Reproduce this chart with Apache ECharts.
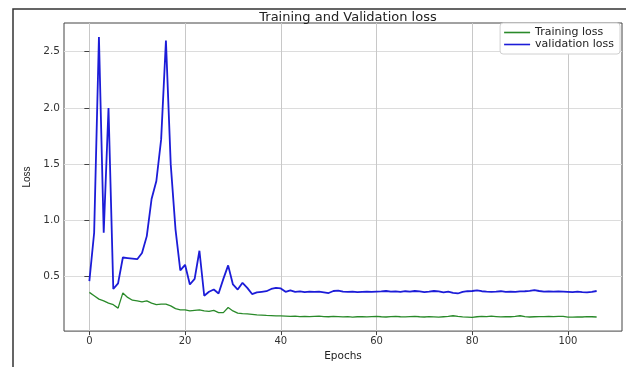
<!DOCTYPE html>
<html>
<head>
<meta charset="utf-8">
<script src="https://cdn.jsdelivr.net/npm/echarts@6/dist/echarts.min.js"></script>
<style>
html,body{margin:0;padding:0;background:#fff;}
#c{width:626px;height:367px;}
</style>
</head>
<body>
<div id="c"></div>
<script>
const trainingLoss = [
0.36,0.33,0.30,0.285,0.265,0.25,0.22,0.355,0.315,0.29,
0.285,0.275,0.285,0.265,0.25,0.255,0.255,0.24,0.215,0.205,
0.205,0.195,0.20,0.205,0.195,0.19,0.20,0.18,0.18,0.225,
0.195,0.175,0.17,0.168,0.165,0.16,0.158,0.155,0.153,0.15,
0.15,0.148,0.146,0.148,0.145,0.147,0.144,0.146,0.148,0.145,
0.143,0.146,0.144,0.142,0.145,0.14,0.143,0.145,0.142,0.144,
0.146,0.143,0.141,0.145,0.147,0.143,0.142,0.145,0.146,0.143,
0.141,0.144,0.142,0.139,0.143,0.147,0.152,0.146,0.142,0.14,
0.137,0.143,0.146,0.144,0.148,0.145,0.142,0.144,0.143,0.146,
0.152,0.144,0.141,0.143,0.145,0.144,0.146,0.145,0.147,0.146,
0.14,0.139,0.142,0.141,0.145,0.143,0.141
];
const validationLoss = [
0.46,0.89,2.63,0.89,2.00,0.39,0.44,0.67,0.665,0.66,
0.655,0.71,0.86,1.19,1.35,1.72,2.60,1.50,0.92,0.555,
0.605,0.43,0.48,0.73,0.33,0.365,0.385,0.35,0.48,0.60,
0.43,0.385,0.445,0.40,0.345,0.36,0.365,0.37,0.39,0.40,
0.395,0.365,0.378,0.365,0.368,0.362,0.366,0.364,0.366,0.36,
0.354,0.372,0.376,0.366,0.364,0.366,0.362,0.365,0.366,0.364,
0.366,0.368,0.372,0.366,0.368,0.365,0.37,0.366,0.372,0.368,
0.362,0.366,0.372,0.368,0.36,0.366,0.356,0.35,0.364,0.37,
0.372,0.378,0.37,0.366,0.364,0.366,0.37,0.364,0.366,0.364,
0.368,0.37,0.374,0.38,0.372,0.366,0.368,0.366,0.368,0.366,
0.364,0.362,0.366,0.362,0.36,0.364,0.372
];
const xTicks = [0,20,40,60,80,100];
const yTicks = [0.5,1.0,1.5,2.0,2.5];

const toPairs = arr => arr.map((v,i)=>[i,v]);

const chart = echarts.init(document.getElementById('c'), null, {renderer:'canvas'});
chart.setOption({
  backgroundColor:'#ffffff',
  animation:false,
  title:{
    text:'Training and Validation loss',
    left:343, top:6, textAlign:'center',
    textStyle:{fontFamily:'DejaVu Sans', fontSize:13, fontWeight:'normal', color:'#222'}
  },
  graphic:[{
    type:'rect', z:-1, silent:true,
    shape:{x:13, y:9, width:700, height:500},
    style:{fill:null, stroke:'#333', lineWidth:1.5}
  }],
  legend:{
    orient:'vertical', right:6, top:23,
    data:[{name:'Training loss', icon:'rect'},{name:'validation loss', icon:'rect'}],
    itemWidth:26, itemHeight:1.6, itemGap:1,
    padding:[4,6,4,4],
    backgroundColor:'#fff', borderColor:'#d0d0d0', borderWidth:1, borderRadius:3,
    textStyle:{fontFamily:'DejaVu Sans', fontSize:11, color:'#222', lineHeight:10}
  },
  grid:{left:64, right:4, top:23, bottom:20, show:true, borderColor:'#444', borderWidth:1, backgroundColor:'transparent'},
  xAxis:{
    type:'value', min:-5.3, max:111.3,
    name:'Epochs', nameLocation:'middle', nameGap:15,
    nameTextStyle:{fontFamily:'DejaVu Sans', fontSize:10.5, color:'#222'},
    axisLine:{show:false},
    axisTick:{show:true, length:4, inside:false, customValues:xTicks, lineStyle:{color:'#444'}},
    axisLabel:{customValues:xTicks, margin:5, fontFamily:'DejaVu Sans', fontSize:10, color:'#333'},
    splitLine:{show:true, lineStyle:{color:'#c8c8c8', width:1}}
  },
  yAxis:{
    type:'value', min:0.0155, max:2.755,
    name:'Loss', nameLocation:'middle', nameGap:29, nameRotate:90,
    nameTextStyle:{fontFamily:'Liberation Sans Narrow, Liberation Sans', fontSize:10, color:'#222'},
    axisLine:{show:false},
    axisTick:{show:true, length:5, customValues:yTicks, lineStyle:{color:'#444'}},
    axisLabel:{customValues:yTicks, margin:4, fontFamily:'DejaVu Sans', fontSize:10.5, color:'#333',
      formatter:v=>v.toFixed(1)},
    splitLine:{show:true, lineStyle:{color:'#dcdcdc', width:1}}
  },
  series:[
    {name:'Training loss', type:'line', data:toPairs(trainingLoss), showSymbol:false,
     lineStyle:{color:'#2a8a2a', width:1.3}, itemStyle:{color:'#2a8a2a'}, z:3},
    {name:'validation loss', type:'line', data:toPairs(validationLoss), showSymbol:false,
     lineStyle:{color:'#1c1cd8', width:1.8}, itemStyle:{color:'#1c1cd8'}, z:2}
  ]
});
</script>
</body>
</html>
